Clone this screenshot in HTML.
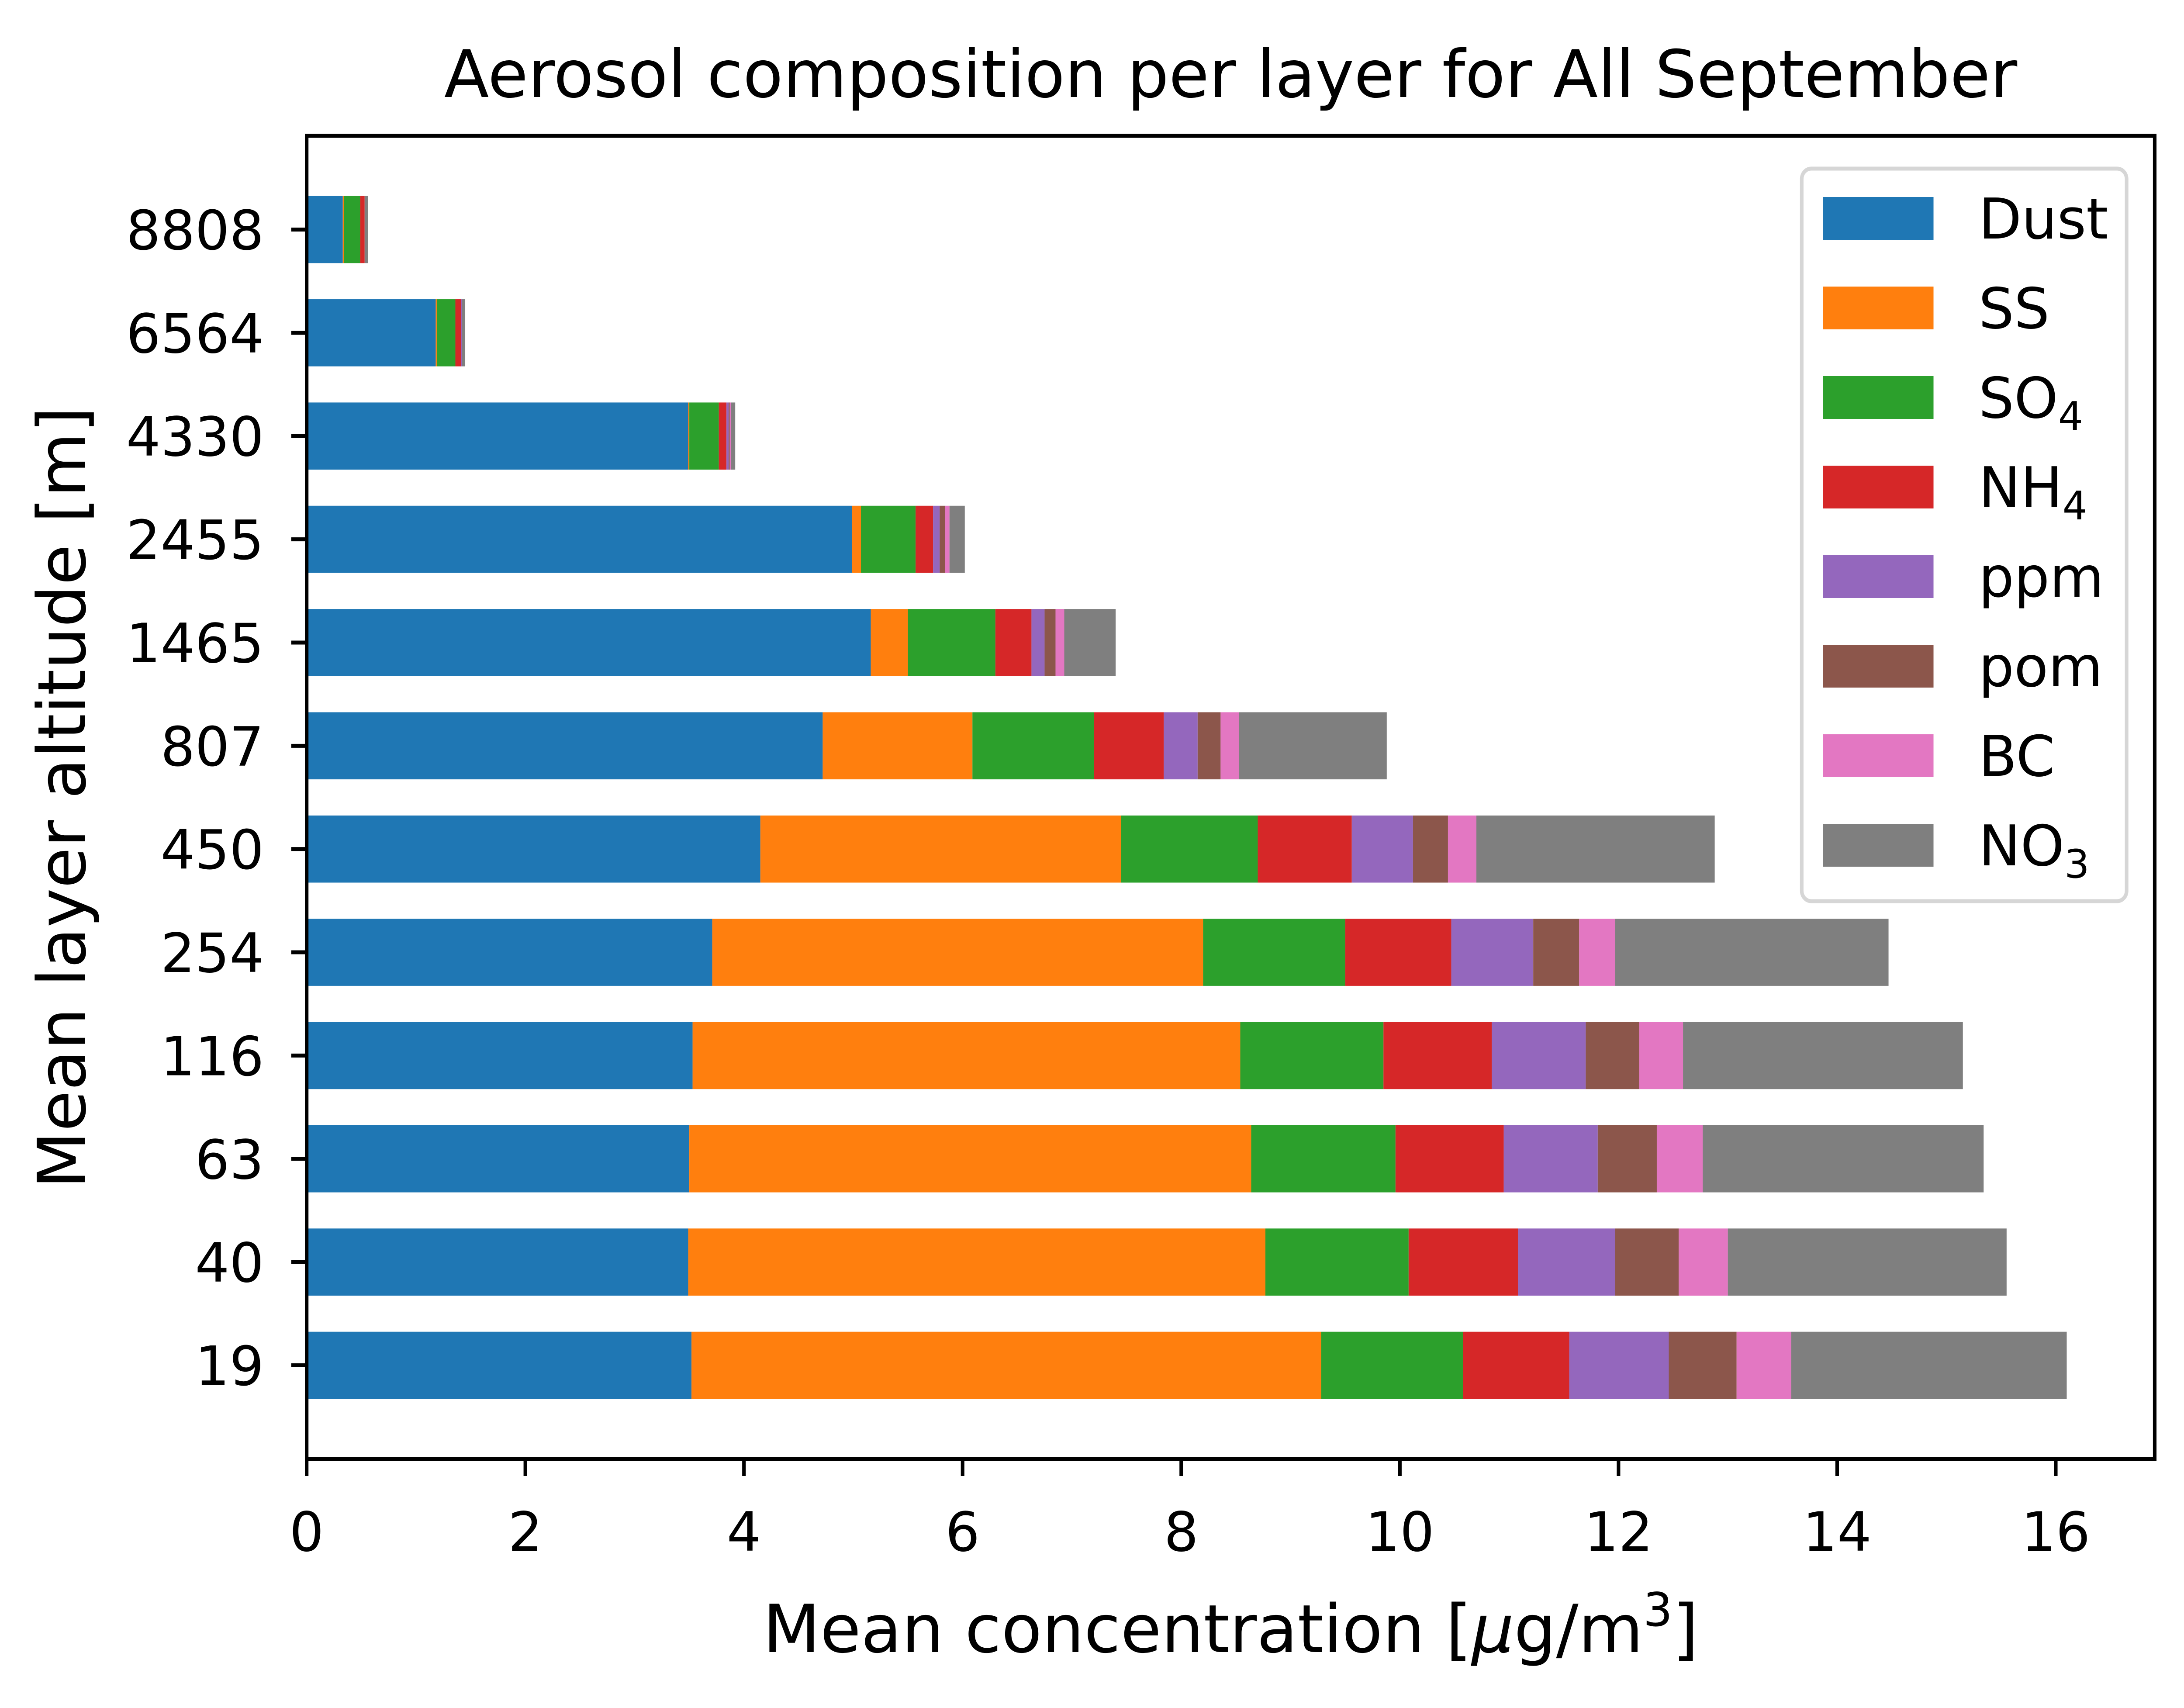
<!DOCTYPE html>
<html><head><meta charset="utf-8"><style>
html,body{margin:0;padding:0;background:#fff;overflow:hidden;width:100%;height:100%;}
svg{display:block;width:100vw;height:100vh;font-family:"DejaVu Sans","Liberation Sans",sans-serif;}
</style></head><body>
<svg id="chart" viewBox="0 0 5519 3910" preserveAspectRatio="none" xmlns="http://www.w3.org/2000/svg">
<rect x="0" y="0" width="5519" height="3910" fill="#fff"/>
<text class="fix" x="3110" y="222" font-size="150" text-anchor="middle">Aerosol composition per layer for All September</text>
<g id="bars"></g>
<g id="axes"></g>
<text class="fix" x="3110" y="3782" font-size="152" text-anchor="middle">Mean concentration [<tspan font-style="italic">μ</tspan>g/m<tspan font-size="106" dy="-60">3</tspan><tspan dy="60">]</tspan></text>
<text id="ytitle" transform="translate(215,1826) rotate(-90)" font-size="152" text-anchor="middle">Mean layer altitude [m]</text>
<g id="legend"></g>
</svg>
<script>
const categories = ["19","40","63","116","254","450","807","1465","2455","4330","6564","8808"];
const seriesNames = ["Dust","SS","SO4","NH4","ppm","pom","BC","NO3"];
const dust = [3.52,3.49,3.50,3.53,3.71,4.15,4.72,5.16,4.99,3.49,1.18,0.33];
const ss   = [5.76,5.28,5.14,5.01,4.49,3.30,1.37,0.34,0.08,0.01,0.01,0.01];
const so4  = [1.30,1.31,1.32,1.31,1.30,1.25,1.11,0.80,0.50,0.27,0.17,0.15];
const nh4  = [0.97,1.00,0.99,0.99,0.97,0.86,0.64,0.33,0.16,0.07,0.05,0.04];
const ppm  = [0.91,0.89,0.86,0.86,0.75,0.56,0.31,0.12,0.06,0.02,0.01,0.00];
const pom  = [0.62,0.58,0.54,0.49,0.42,0.32,0.21,0.10,0.05,0.01,0.00,0.00];
const bc   = [0.50,0.45,0.42,0.40,0.33,0.26,0.17,0.08,0.04,0.01,0.00,0.00];
const no3  = [2.52,2.55,2.57,2.56,2.50,2.18,1.35,0.47,0.14,0.04,0.03,0.03];
const xTicks = [0,2,4,6,8,10,12,14,16];

const NS="http://www.w3.org/2000/svg";
const series=[dust,ss,so4,nh4,ppm,pom,bc,no3];
const colors=["#1f77b4","#ff7f0e","#2ca02c","#d62728","#9467bd","#8c564b","#e377c2","#7f7f7f"];
const L=775,R=5445,T=311,B=3340;
const barH=0.65;
const n=categories.length;
let maxTot=0;
for(let i=0;i<n;i++){let s=0;for(const a of series)s+=a[i];maxTot=Math.max(maxTot,s);}
const xmax=maxTot*1.05;
const ymin=-barH/2-0.05*(n-1+barH), ymax=n-1+barH/2+0.05*(n-1+barH);
const xs=v=>L+v/xmax*(R-L);
const ys=v=>B-(v-ymin)/(ymax-ymin)*(B-T);
function mk(tag,attrs,parent){const e=document.createElementNS(NS,tag);for(const k in attrs)e.setAttribute(k,attrs[k]);parent.appendChild(e);return e;}
const gb=document.getElementById('bars');
for(let i=0;i<n;i++){
  let cum=0;
  for(let s=0;s<series.length;s++){
    const v=series[s][i];
    const r=mk('rect',{x:xs(cum),y:ys(i+barH/2),width:Math.max(0,xs(cum+v)-xs(cum)),height:ys(i-barH/2)-ys(i+barH/2),fill:colors[s]},gb);
    
    
    cum+=v;
  }
}
const ga=document.getElementById('axes');
const lw=9;
const frame=mk('rect',{x:L,y:T,width:R-L,height:B-T,fill:'none',stroke:'#000','stroke-width':lw},ga);


for(const t of xTicks){
  const x=xs(t);
  const tk=mk('line',{x1:x,x2:x,y1:B,y2:B+39,stroke:'#000','stroke-width':lw},ga);
  
  
  const tx=mk('text',{x:x,y:3550,'font-size':124,'text-anchor':'middle','class':'fix'},ga);
  tx.textContent=String(t);
  
  
}
for(let i=0;i<n;i++){
  const y=ys(i);
  const tk=mk('line',{x1:L-39,x2:L,y1:y,y2:y,stroke:'#000','stroke-width':lw},ga);
  
  
  const tx=mk('text',{x:L-108,y:y+45,'font-size':124,'text-anchor':'end','class':'fix'},ga);
  tx.textContent=categories[i];
  
  
}
const gl=document.getElementById('legend');
const box=mk('rect',{x:4553,y:386,width:821,height:1677,rx:24,fill:'#fff','fill-opacity':0.8,stroke:'#d6d6d6','stroke-width':9},gl);


const subs={SO4:["SO","4"],NH4:["NH","4"],NO3:["NO","3"]};
for(let s=0;s<seriesNames.length;s++){
  const cy=500+s*205;
  const h=mk('rect',{x:4607,y:cy-49,width:279,height:98,fill:colors[s]},gl);
  
  
  const t=mk('text',{x:5000,y:cy+46,'font-size':128,'class':'fix'},gl);
  
  
  if(subs[seriesNames[s]]){
    t.appendChild(document.createTextNode(subs[seriesNames[s]][0]));
    const ts=mk('tspan',{'font-size':90,dy:28},t);
    ts.textContent=subs[seriesNames[s]][1];
  } else t.textContent=seriesNames[s];
}
// keep text proportions undistorted regardless of viewport aspect
const k=(window.innerHeight/3910)/(window.innerWidth/5519);
for(const t of document.querySelectorAll('text.fix')){
  const x=+t.getAttribute('x'), y=+t.getAttribute('y');
  t.setAttribute('transform','translate('+x+','+y+') scale('+k+',1) translate('+(-x)+','+(-y)+')');
}
document.getElementById('ytitle').setAttribute('transform','translate(215,1826) scale('+k+',1) rotate(-90)');
</script>
</body></html>
